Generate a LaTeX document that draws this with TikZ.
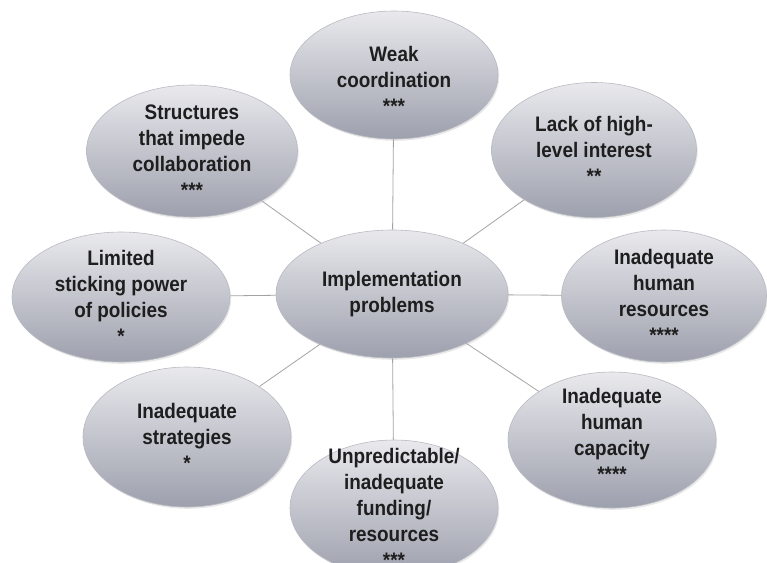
\documentclass[tikz,border=0pt]{standalone}
\usepackage{fontspec}
\newfontfamily\bubblefont{Liberation Sans}[FakeStretch=0.9]
\usepackage{tikz}
\usetikzlibrary{shapes.geometric,shadows}
\definecolor{bubtop}{HTML}{E9E9ED}
\definecolor{bubmid}{HTML}{D8D9DF}
\definecolor{bubbot}{HTML}{9DA0AD}
\definecolor{bubline}{HTML}{B9BAC2}
\definecolor{spokegray}{HTML}{A3A3A3}
\definecolor{ink}{HTML}{1E1E1E}

\tikzset{
  bubble/.style={ellipse,draw=bubline,line width=0.6pt,
    top color=bubtop,middle color=bubmid,bottom color=bubbot,
    minimum width=208pt,minimum height=134pt,inner sep=0pt,
    drop shadow={shadow xshift=1.2pt,shadow yshift=-1.8pt,opacity=0.18}},
  bubtext/.style={font=\bubblefont\bfseries\fontsize{21}{26}\selectfont,
    text=ink,align=center,inner sep=0pt},
  spoke/.style={draw=spokegray,line width=0.8pt}
}

\begin{document}
\begin{tikzpicture}[x=1pt,y=-1pt]
  \useasboundingbox (0,0) rectangle (767,562);
  % hub and the eight problems round it
  \node[bubble,minimum width=232pt,minimum height=128pt] (imp) at (392,294) {};
  \node[bubble,minimum height=128pt] (weak)   at (394,75)  {};
  \node[bubble,minimum width=211pt,minimum height=132pt] (struct) at (192,151) {};
  \node[bubble,minimum width=205pt,minimum height=135pt] (lack)   at (594,150) {};
  \node[bubble,minimum width=218pt,minimum height=130pt] (limit)  at (121,297) {};
  \node[bubble,minimum width=205pt,minimum height=132pt] (hr)     at (664,296) {};
  \node[bubble,minimum height=140pt] (strat)  at (187,437) {};
  \node[bubble,minimum height=136pt] (cap)    at (612,440) {};
  \node[bubble,minimum height=136pt] (fund)   at (394,508) {};

  \foreach \b in {weak,struct,lack,limit,hr,strat,cap,fund}
    \draw[spoke] (imp) -- (\b);

  \node[bubtext] (imp-t)    at (imp)    {Implementation\\problems};
  \node[bubtext] (weak-t)   at ([yshift=-5pt]weak) {Weak\\coordination\\***};
  \node[bubtext] (struct-t) at (struct) {Structures\\that impede\\collaboration\\***};
  \node[bubtext] (lack-t)   at (lack)   {Lack of high-\\level interest\\**};
  \node[bubtext] (limit-t)  at (limit)  {Limited\\sticking power\\of policies\\*};
  \node[bubtext] (hr-t)     at (hr)     {Inadequate\\human\\resources\\****};
  \node[bubtext] (strat-t)  at (strat)  {Inadequate\\strategies\\*};
  \node[bubtext] (cap-t)    at ([yshift=5pt]cap) {Inadequate\\human\\capacity\\****};
  \node[bubtext] (fund-t)   at (fund)   {Unpredictable/\\inadequate\\funding/\\resources\\***};
\end{tikzpicture}
\end{document}
